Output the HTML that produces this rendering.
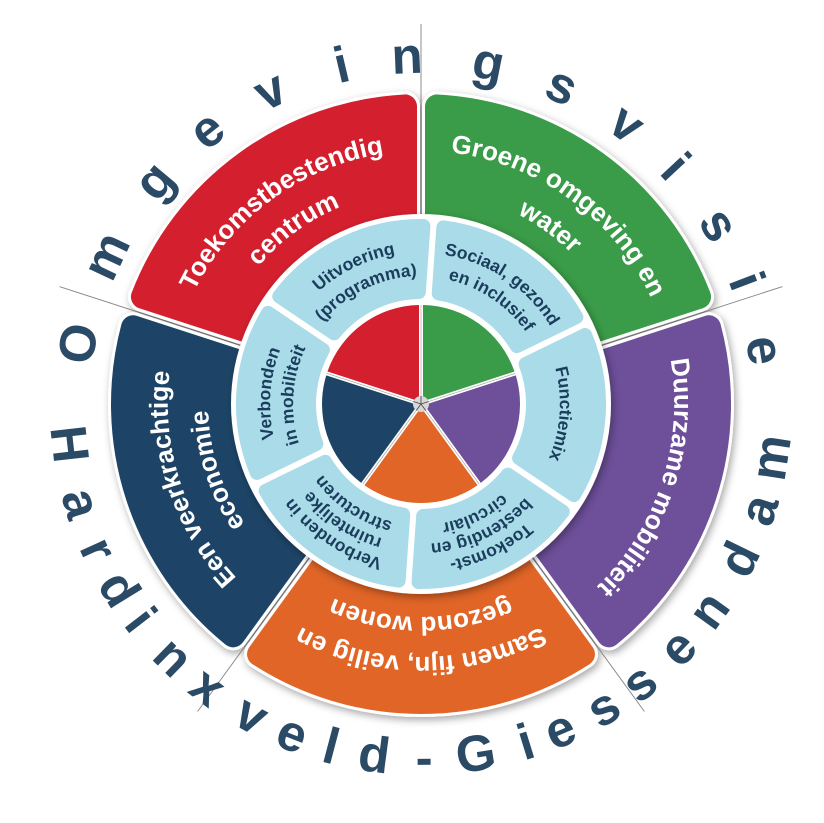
<!DOCTYPE html>
<html><head><meta charset="utf-8">
<style>
html,body{margin:0;padding:0;background:#fff;}
svg{display:block;}
text{font-family:"Liberation Sans",sans-serif;font-weight:bold;}
</style></head>
<body>
<svg id="s" width="824" height="823" viewBox="0 0 824 823" xmlns="http://www.w3.org/2000/svg">
<defs id="defs">
<filter id="sh" x="-20%" y="-20%" width="140%" height="140%">
<feDropShadow dx="2" dy="3" stdDeviation="4" flood-color="#000" flood-opacity="0.35"/>
</filter>
</defs>
</svg>
<script>
const NS="http://www.w3.org/2000/svg";
const svg=document.getElementById('s'), defs=document.getElementById('defs');
const cx=421, cy=404;
function P(r,a){const t=a*Math.PI/180;return (cx+r*Math.sin(t)).toFixed(2)+","+(cy-r*Math.cos(t)).toFixed(2);}
function D(d,r){return Math.asin(Math.min(1,d/r))*180/Math.PI;}
function sector(r1,r2,a1,a2,d){
  if(r1<=0){
    const h=(a2-a1)/2*Math.PI/180, rr=d/Math.sin(h);
    return `M${P(rr,(a1+a2)/2)} L${P(r2,a1+D(d,r2))} A${r2} ${r2} 0 0 1 ${P(r2,a2-D(d,r2))} Z`;
  }
  return `M${P(r1,a1+D(d,r1))} L${P(r2,a1+D(d,r2))} A${r2} ${r2} 0 0 1 ${P(r2,a2-D(d,r2))} L${P(r1,a2-D(d,r1))} A${r1} ${r1} 0 0 0 ${P(r1,a1+D(d,r1))} Z`;
}
function el(tag,attrs,parent){const e=document.createElementNS(NS,tag);for(const k in attrs)e.setAttribute(k,attrs[k]);(parent||svg).appendChild(e);return e;}

for(let k=0;k<5;k++){const a=k*72;el('path',{d:`M${P(100,a)} L${P(380,a)}`,stroke:'#8a8a8a','stroke-width':0.8,fill:'none'});}

const outer=[['#d41f2e',288,360],['#3a9b48',0,72],['#6d4f9a',72,144],['#e06526',144,216],['#1d4466',216,288]];
const rho=12;
const gW=el('g',{filter:'url(#sh)'});
outer.forEach(([c,a1,a2])=>{el('path',{d:sector(120+rho,310-rho,a1,a2,4+rho),fill:'#fff',stroke:'#fff','stroke-width':2*rho+6,'stroke-linejoin':'round'},gW);});
outer.forEach(([c,a1,a2])=>{el('path',{d:sector(120+rho,310-rho,a1,a2,4+rho),fill:c,stroke:c,'stroke-width':2*rho,'stroke-linejoin':'round'});});
for(let k=0;k<5;k++){const a=k*72;el('path',{d:`M${P(300,a)} L${P(380,a)}`,stroke:'#8a8a8a','stroke-width':0.8,fill:'none'});}

el('circle',{cx:cx,cy:cy,r:190,fill:'#fff',filter:'url(#sh)'});
const r2=7;
for(let k=0;k<6;k++){const a1=4+60*k,a2=a1+60;
  el('path',{d:sector(105+r2,185-r2,a1,a2,3+r2),fill:'#a9dbe8',stroke:'#a9dbe8','stroke-width':2*r2,'stroke-linejoin':'round'});}

el('circle',{cx:cx,cy:cy,r:101,fill:'#fff'});
outer.forEach(([c,a1,a2])=>{el('path',{d:sector(0,99,a1,a2,2),fill:c});});
for(let k=0;k<5;k++){const a=k*72;el('path',{d:`M${P(0,a)} L${P(99,a)}`,stroke:'#9a9a9a','stroke-width':0.6,fill:'none'});}
el('circle',{cx:cx,cy:cy,r:8,fill:'#d8d8d8'});
for(let k=0;k<5;k++){el('path',{d:`M${P(0,k*72)} L${P(8,k*72+144)}`,stroke:'#444','stroke-width':0.8});}

let pid=0;
function label(t,rc,a,fs,fill){
  const rb=rc-0.35*fs, id='p'+(pid++);
  el('path',{id:id,d:`M${P(rb,a-180)} A${rb} ${rb} 0 1 1 ${P(rb,a)} A${rb} ${rb} 0 1 1 ${P(rb,a-180)}`,fill:'none'},defs);
  const tx=el('text',{'font-size':fs,fill:fill});
  const tp=el('textPath',{href:'#'+id,startOffset:'50%','text-anchor':'middle'},tx);
  tp.textContent=t;
}
const W='#fff';
label('Toekomstbestendig',262,-36,26,W);label('centrum',222,-36,26,W);
label('Groene omgeving en',262,36,26,W);label('water',222,36,26,W);
label('Duurzame mobiliteit',262,108,26,W);
label('Samen fijn, veilig en',262,180,26,W);label('gezond wonen',222,180,26,W);
label('Een veerkrachtige',262,252,26,W);label('economie',222,252,26,W);
const N='#1b3d5c', fi=17.5;
label('Uitvoering',158,334,fi,N);label('(programma)',134,334,fi,N);
label('Sociaal, gezond',157,34,fi,N);label('en inclusief',133,34,fi,N);
label('Functiemix',145,94,fi,N);
label('Toekomst-',165,154,fi,N);label('bestendig en',146,154,fi,N);label('circulair',127,154,fi,N);
label('Verbonden in',165,214,fi,N);label('ruimtelijke',146,214,fi,N);label('structuren',127,214,fi,N);
label('Verbonden',157,274,fi,N);label('in mobiliteit',134,274,fi,N);

const C='#2b4a66';
function letters(str,angs,r,flip){
  for(let i=0;i<str.length;i++){
    const a=angs[i];
    const t=a*Math.PI/180, x=cx+r*Math.sin(t), y=cy-r*Math.cos(t);
    const e=el('text',{'font-size':51,fill:C,'text-anchor':'middle',transform:`translate(${x.toFixed(2)},${y.toFixed(2)}) rotate(${(flip?a+180:a).toFixed(2)})`});
    e.textContent=str[i];
  }
}
letters('Omgevingsvisie',[-80,-64.8,-50.1,-38,-25.7,-13.2,-2.3,11.2,23.9,36.3,47,59,69.3,81.1],331,false);
letters('Hardinxveld-Giessendam',[263.5,253.7,245.7,238.5,232.4,224.4,217,208.6,201.3,194.7,187.6,179.5,171.1,162.8,156.9,149,141.9,133.5,125.6,116,107.4,98.7],371,true);
</script>
</body></html>
